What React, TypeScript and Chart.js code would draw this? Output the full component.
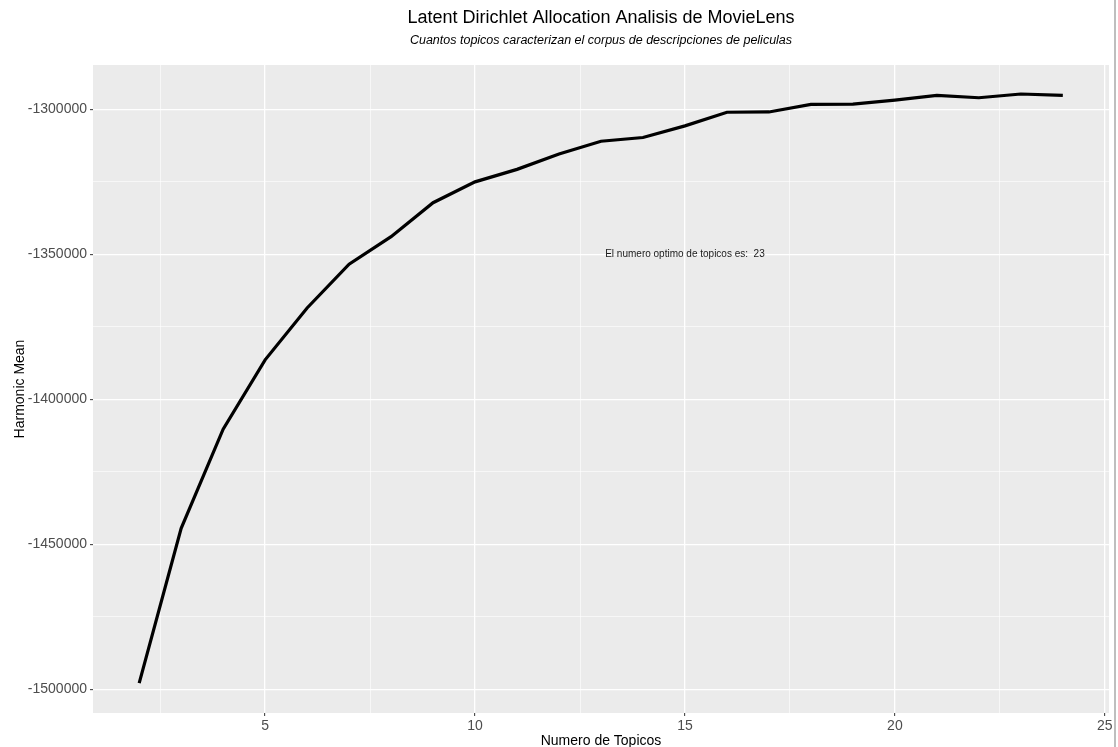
import React, { useEffect, useRef } from 'react';
import { Chart, registerables } from 'chart.js';

Chart.register(...registerables);

const topicCounts = [2, 3, 4, 5, 6, 7, 8, 9, 10, 11, 12, 13, 14, 15, 16, 17, 18, 19, 20, 21, 22, 23, 24];
const harmonicMeans = [
  -1497900, -1444500, -1410300, -1386400, -1368500, -1353400, -1343900, -1332200,
  -1325000, -1320700, -1315400, -1311000, -1309700, -1305700, -1301000, -1300900,
  -1298300, -1298200, -1296800, -1295200, -1296000, -1294700, -1295200,
];
const xTickValues = [2.5, 5, 7.5, 10, 12.5, 15, 17.5, 20, 22.5, 25];
const yTickValues = [-1500000, -1475000, -1450000, -1425000, -1400000, -1375000, -1350000, -1325000, -1300000];
const xMajorStep = 5;
const yMajorStep = 50000;

const titleText = 'Latent Dirichlet Allocation Analisis de MovieLens';
const subtitleText = 'Cuantos topicos caracterizan el corpus de descripciones de peliculas';
const xTitleText = 'Numero de Topicos';
const yTitleText = 'Harmonic Mean';
const annotationText = 'El numero optimo de topicos es:  23';
const annotationX = 15;
const annotationY = -1350000;

const FONT = '"Liberation Sans", Arial, Helvetica, sans-serif';

const isMajor = (v: number, step: number) => Math.abs(v % step) < 1e-6;

const decorPlugin = {
  id: 'decor',
  beforeDraw(chart: any) {
    const { ctx, chartArea } = chart;
    ctx.save();
    ctx.fillStyle = '#EBEBEB';
    ctx.fillRect(chartArea.left, chartArea.top, chartArea.right - chartArea.left, chartArea.bottom - chartArea.top);
    ctx.restore();
  },
  afterDraw(chart: any) {
    const { ctx, chartArea, scales } = chart;
    const cx = (chartArea.left + chartArea.right) / 2;
    ctx.save();
    ctx.textAlign = 'center';
    ctx.textBaseline = 'middle';
    ctx.fillStyle = '#000000';
    ctx.font = `18px ${FONT}`;
    ctx.fillText(titleText, cx, 18);
    ctx.font = `italic 12.5px ${FONT}`;
    ctx.fillText(subtitleText, cx, 41);
    ctx.font = `14px ${FONT}`;
    ctx.fillText(xTitleText, cx, 741);
    ctx.save();
    ctx.translate(20, (chartArea.top + chartArea.bottom) / 2);
    ctx.rotate(-Math.PI / 2);
    ctx.fillText(yTitleText, 0, 0);
    ctx.restore();
    ctx.font = `10px ${FONT}`;
    ctx.fillStyle = '#1a1a1a';
    ctx.fillText(annotationText, scales.x.getPixelForValue(annotationX), scales.y.getPixelForValue(annotationY));
    ctx.strokeStyle = '#a8a8a8';
    ctx.lineWidth = 1.5;
    ctx.beginPath();
    ctx.moveTo(1115, 0);
    ctx.lineTo(1115, 747);
    ctx.stroke();
    ctx.restore();
  },
};

export default function App() {
  const canvasRef = useRef<HTMLCanvasElement | null>(null);

  useEffect(() => {
    if (!canvasRef.current) return;
    const points = topicCounts.map((x, i) => ({ x, y: harmonicMeans[i] }));
    const chart = new Chart(canvasRef.current, {
      type: 'line',
      data: {
        datasets: [
          {
            data: points,
            borderColor: '#000000',
            borderWidth: 3.2,
            pointRadius: 0,
            tension: 0,
            fill: false,
          },
        ],
      },
      options: {
        animation: false,
        responsive: false,
        devicePixelRatio: 1,
        layout: { padding: { left: 0, top: 65, right: 9, bottom: 0 } },
        plugins: { legend: { display: false }, tooltip: { enabled: false } },
        scales: {
          x: {
            type: 'linear',
            min: 0.9,
            max: 25.1,
            afterFit: (s: any) => { s.height = 34; },
            afterBuildTicks: (s: any) => { s.ticks = xTickValues.map((v) => ({ value: v })); },
            border: { display: false },
            grid: {
              color: '#FFFFFF',
              lineWidth: (c: any) => (isMajor(c.tick.value, xMajorStep) ? 1.3 : 0.6),
              tickColor: (c: any) => (isMajor(c.tick.value, xMajorStep) ? '#333333' : 'rgba(0,0,0,0)'),
              tickWidth: 1,
              tickLength: 3,
              drawTicks: true,
            },
            ticks: {
              autoSkip: false,
              maxRotation: 0,
              padding: 2,
              color: '#4D4D4D',
              font: { family: FONT, size: 14 },
              callback: (v: any) => (isMajor(Number(v), xMajorStep) ? String(v) : ''),
            },
          },
          y: {
            type: 'linear',
            min: -1508200,
            max: -1284700,
            afterFit: (s: any) => { s.width = 93; },
            afterBuildTicks: (s: any) => { s.ticks = yTickValues.map((v) => ({ value: v })); },
            border: { display: false },
            grid: {
              color: '#FFFFFF',
              lineWidth: (c: any) => (isMajor(c.tick.value, yMajorStep) ? 1.3 : 0.6),
              tickColor: (c: any) => (isMajor(c.tick.value, yMajorStep) ? '#333333' : 'rgba(0,0,0,0)'),
              tickWidth: 1,
              tickLength: 3,
              drawTicks: true,
            },
            ticks: {
              autoSkip: false,
              padding: 3,
              color: '#4D4D4D',
              font: { family: FONT, size: 14 },
              callback: (v: any) => (isMajor(Number(v), yMajorStep) ? String(v) : ''),
            },
          },
        },
      },
      plugins: [decorPlugin],
    });
    return () => chart.destroy();
  }, []);

  return (
    <div style={{ position: 'absolute', left: 0, top: 0, width: 1118, height: 747, background: '#FFFFFF' }}>
      <canvas ref={canvasRef} width={1118} height={747} style={{ display: 'block', width: 1118, height: 747 }} />
    </div>
  );
}
